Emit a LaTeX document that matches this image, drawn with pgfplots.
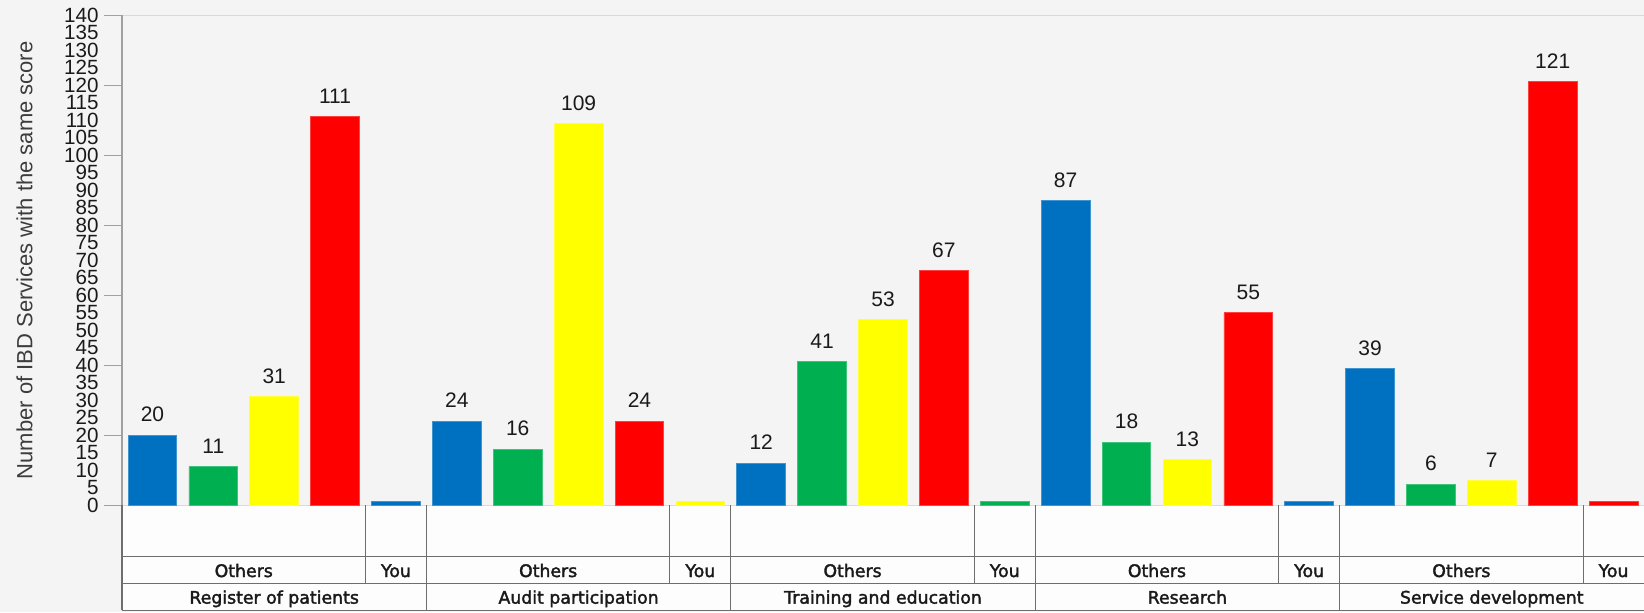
\documentclass[border=0pt]{standalone}
\usepackage{fontspec}
\setmainfont{Liberation Sans}
\newfontfamily\tahoma[FakeBold=2]{DejaVu Sans}
\usepackage{pgfplots}
\pgfplotsset{compat=1.18}

\definecolor{cBlue}{HTML}{0070C0}
\definecolor{cGreen}{HTML}{00B050}
\definecolor{cYellow}{HTML}{FFFF00}
\definecolor{cRed}{HTML}{FF0000}
\definecolor{bgGrey}{HTML}{F4F4F4}
\definecolor{tableBg}{HTML}{FDFDFD}
\definecolor{axGrey}{HTML}{A0A0A0}
\definecolor{lightLine}{HTML}{DADADA}
\definecolor{gridLine}{HTML}{6E6E6E}
\definecolor{txt}{HTML}{1A1A1A}

\tikzset{tbl/.style={font=\tahoma\fontsize{8.65}{10}\selectfont, text=txt, anchor=base, inner sep=0pt}}

\begin{document}
\begin{tikzpicture}
% page and table backgrounds
\fill[bgGrey] (-61pt,-53.5pt) rectangle (761pt,252.65pt);
\fill[tableBg] (0pt,-52.5pt) rectangle (761pt,0pt);
\begin{axis}[
  width=761pt, height=245pt, scale only axis,
  xmin=0, xmax=25, ymin=0, ymax=140,
  clip=false,
  axis line style={draw=none},
  xtick=\empty,
  ytick={0,5,...,140},
  major tick length=0pt,
  ytick pos=left,
  /pgf/number format/assume math mode=true,
  yticklabel style={font=\fontsize{10.3}{10}\selectfont, text=txt, anchor=east, inner sep=0pt, xshift=-11.5pt},
  extra y ticks={0,20,...,140},
  extra y tick labels={},
  extra y tick style={major tick length=9pt, tick align=outside, tick style={axGrey, line width=0.6pt}},
  ylabel={Number of IBD Services with the same score},
  ylabel style={at={(axis description cs:-0.0585,0.5)}, anchor=south, inner sep=0pt, font=\fontsize{11}{13}\selectfont, text=txt!85!white},
  ybar, bar width=0.8, bar shift=0pt,
  every node near coord/.append style={font=\fontsize{10.5}{12}\selectfont, text=txt, anchor=south, inner sep=0pt, yshift=6.5pt},
]
% plot frame
\draw[lightLine, line width=0.6pt] (0,140) -- (25,140);
\draw[lightLine, line width=0.8pt] (0,0) -- (25,0);
\draw[axGrey, line width=0.6pt] (0,0) -- (0,140);

% Others
\addplot[bar shift=0pt, fill=cBlue, draw=cBlue!75!white, line width=0.4pt, nodes near coords]
  coordinates {(0.5,20) (5.5,24) (10.5,12) (15.5,87) (20.5,39)};
\addplot[bar shift=0pt, fill=cGreen, draw=cGreen!75!white, line width=0.4pt, nodes near coords]
  coordinates {(1.5,11) (6.5,16) (11.5,41) (16.5,18) (21.5,6)};
\addplot[bar shift=0pt, fill=cYellow, draw=cYellow!75!white, line width=0.4pt, nodes near coords]
  coordinates {(2.5,31) (7.5,109) (12.5,53) (17.5,13) (22.5,7)};
\addplot[bar shift=0pt, fill=cRed, draw=cRed!75!white, line width=0.4pt, nodes near coords]
  coordinates {(3.5,111) (8.5,24) (13.5,67) (18.5,55) (23.5,121)};
% You
\addplot[bar shift=0pt, fill=cBlue, draw=cBlue!75!white, line width=0.4pt]
  coordinates {(4.5,1) (19.5,1)};
\addplot[bar shift=0pt, fill=cYellow, draw=cYellow!75!white, line width=0.4pt]
  coordinates {(9.5,1)};
\addplot[bar shift=0pt, fill=cGreen, draw=cGreen!75!white, line width=0.4pt]
  coordinates {(14.5,1)};
\addplot[bar shift=0pt, fill=cRed, draw=cRed!75!white, line width=0.4pt]
  coordinates {(24.5,1)};

% category table below the axis
\draw[gridLine, line width=0.6pt] (0,0) -- (0,-30);
\draw[gridLine, line width=0.5pt] (0,-14.571) -- (25,-14.571);
\draw[gridLine, line width=0.5pt] (0,-22.286) -- (25,-22.286);
\draw[gridLine, line width=0.5pt] (0,-30) -- (25,-30);
\pgfplotsinvokeforeach{5,10,15,20}{\draw[gridLine, line width=0.5pt] (#1,0) -- (#1,-30);}
\pgfplotsinvokeforeach{4,9,14,19,24}{\draw[gridLine, line width=0.5pt] (#1,0) -- (#1,-22.286);}

\node[tbl] at (2,-20.49) {Others};
\node[tbl] at (7,-20.49) {Others};
\node[tbl] at (12,-20.49) {Others};
\node[tbl] at (17,-20.49) {Others};
\node[tbl] at (22,-20.49) {Others};
\node[tbl] at (4.5,-20.49) {You};
\node[tbl] at (9.5,-20.49) {You};
\node[tbl] at (14.5,-20.49) {You};
\node[tbl] at (19.5,-20.49) {You};
\node[tbl] at (24.5,-20.49) {You};
\node[tbl] at (2.5,-28.09) {Register of patients};
\node[tbl] at (7.5,-28.09) {Audit participation};
\node[tbl] at (12.5,-28.09) {Training and education};
\node[tbl] at (17.5,-28.09) {Research};
\node[tbl] at (22.5,-28.09) {Service development};
\end{axis}
\pgfresetboundingbox
\useasboundingbox (-61pt,-53.5pt) rectangle (761pt,252.65pt);
\end{tikzpicture}
\end{document}
